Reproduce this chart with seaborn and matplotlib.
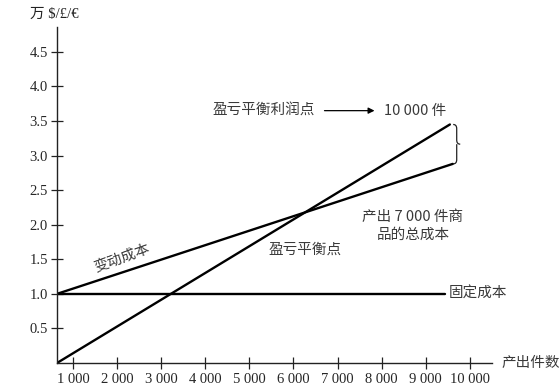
import pandas as pd
import seaborn as sns
import matplotlib.pyplot as plt
from matplotlib.path import Path
import matplotlib.patches as mpatches

# output units (pieces) and amounts (10k $/£/€)
units_fixed = [640, 9430]
fixed_cost = [1.0, 1.0]
units_total = [640, 9610]
total_cost = [1.0, 2.88]
units_revenue = [640, 9545]
revenue = [0.0, 3.45]

x_ticks = [1000, 2000, 3000, 4000, 5000, 6000, 7000, 8000, 9000, 10000]
x_tick_labels = ['1 000', '2 000', '3 000', '4 000', '5 000',
                 '6 000', '7 000', '8 000', '9 000', '10 000']
y_ticks = [0.5, 1.0, 1.5, 2.0, 2.5, 3.0, 3.5, 4.0, 4.5]
y_tick_labels = ['0.5', '1.0', '1.5', '2.0', '2.5', '3.0', '3.5', '4.0', '4.5']

sns.set_theme(style='white')
cjk = ['Noto Sans CJK SC', 'DejaVu Sans']
serif = ['Liberation Serif', 'Noto Sans CJK SC']

fig = plt.figure(figsize=(5.6, 3.91), dpi=100)
ax = fig.add_axes([57 / 560, 1 - 363 / 391, (492 - 57) / 560, (363 - 27) / 391])

for xs, ys in [(units_fixed, fixed_cost), (units_total, total_cost), (units_revenue, revenue)]:
    df = pd.DataFrame({'units': xs, 'value': ys})
    sns.lineplot(data=df, x='units', y='value', ax=ax, color='black', lw=1.7)

ax.set_xlim(640, 10500)
ax.set_ylim(0, 4.86)
ax.set_xticks(x_ticks)
ax.set_xticklabels(x_tick_labels, family=serif, fontsize=10.5)
ax.set_yticks(y_ticks)
ax.set_yticklabels(y_tick_labels, family=serif, fontsize=10.5)
ax.tick_params(axis='x', bottom=True, direction='inout', length=8, width=0.9,
               color='#222', pad=3)
ax.tick_params(axis='y', left=True, direction='inout', length=9, width=0.9,
               color='#222', pad=2)
ax.set_xlabel('')
ax.set_ylabel('')
for side in ['top', 'right']:
    ax.spines[side].set_visible(False)
for side in ['left', 'bottom']:
    ax.spines[side].set_color('#222')
    ax.spines[side].set_linewidth(1.0)

# curly brace between the ends of the revenue and total-cost lines
bx = 9700
w = 80
y0, y1 = total_cost[-1], revenue[-1]
ym = (y0 + y1) / 2
verts = [(bx - w, y1), (bx, y1), (bx, y1 - 0.06),
         (bx, ym + 0.06),
         (bx, ym), (bx + w, ym),
         (bx, ym), (bx, ym - 0.06),
         (bx, y0 + 0.06), (bx, y0), (bx - w, y0)]
codes = [Path.MOVETO, Path.CURVE3, Path.CURVE3,
         Path.LINETO,
         Path.CURVE3, Path.CURVE3,
         Path.MOVETO, Path.CURVE3,
         Path.LINETO, Path.CURVE3, Path.CURVE3]
ax.add_patch(mpatches.PathPatch(Path(verts, codes), fill=False, lw=0.9,
                                edgecolor='#222', clip_on=False))

txt = '#3a3a3a'
ax.text(4170, 3.65, '盈亏平衡利润点', family=cjk, fontsize=10.5, color=txt,
        ha='left', va='center')
ax.annotate('', xy=(7900, 3.65), xytext=(6640, 3.65),
            arrowprops=dict(arrowstyle='-|>', color='black', lw=0.9,
                            mutation_scale=9))
ax.text(8050, 3.65, '10 000 件', family=cjk, fontsize=10.5, color=txt,
        ha='left', va='center')
ax.text(8710, 1.98, '产出 7 000 件商\n品的总成本', family=cjk, fontsize=10.5,
        color=txt, ha='center', va='center', linespacing=1.3)
ax.text(6260, 1.64, '盈亏平衡点', family=cjk, fontsize=10.5, color=txt,
        ha='center', va='center')
ax.text(2110, 1.52, '变动成本', family=cjk, fontsize=10.5, color=txt,
        ha='center', va='center', rotation=20)
ax.text(9520, 1.0, '固定成本', family=cjk, fontsize=10.5, color=txt,
        ha='left', va='center')
ax.text(10720, 0.0, '产出件数', family=cjk, fontsize=10.5, color=txt,
        ha='left', va='center', clip_on=False)
fig.text(30 / 560, 1 - 14 / 391, '万 $/£/€', family=serif, fontsize=10.5,
         color='#222', ha='left', va='center')

fig.savefig('out.png', dpi=100)
